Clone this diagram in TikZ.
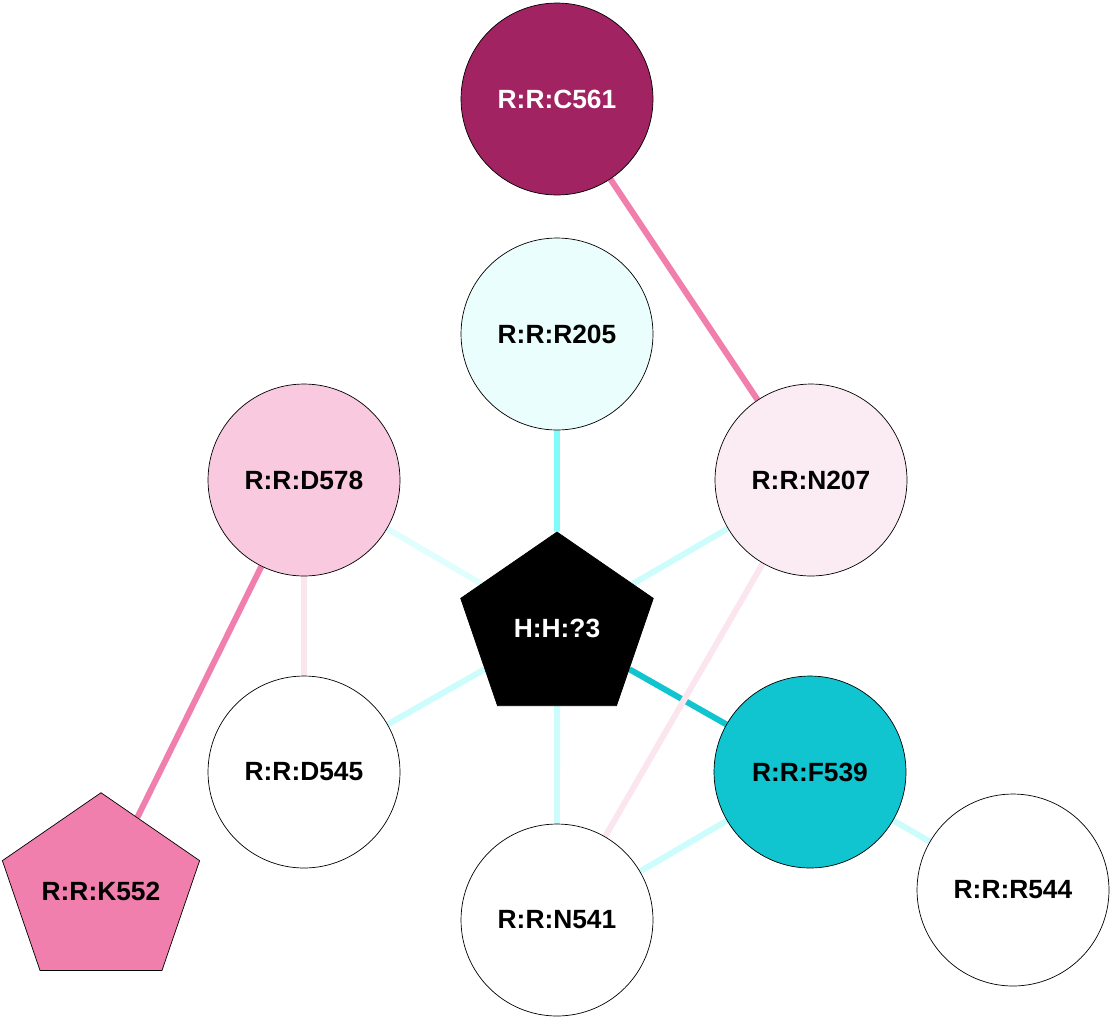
\documentclass[tikz,border=0pt]{standalone}
\usepackage{fontspec}
\setmainfont{Liberation Sans}
\usetikzlibrary{shapes.geometric,backgrounds}
\definecolor{cMag}{HTML}{A12361}
\definecolor{cPink}{HTML}{F07FAD}
\definecolor{cRose}{HTML}{F8C9DF}
\definecolor{cBlush}{HTML}{FBEBF2}
\definecolor{cIce}{HTML}{E9FEFD}
\definecolor{cTeal}{HTML}{10C5D0}
\definecolor{cAqua}{HTML}{80FBF9}
\definecolor{cFoam}{HTML}{CCFDFC}
\definecolor{cMist}{HTML}{E0FEFD}
\definecolor{cPale}{HTML}{FBE6EF}
\newcommand{\ligtxt}[1]{\scalebox{0.948}[1]{#1}}
\tikzset{
 res/.style={circle,draw=black,thin,minimum size=3.84cm,inner sep=0pt,
   font=\fontsize{15}{18}\selectfont\bfseries},
 lig/.style={regular polygon,regular polygon sides=5,draw=black,thin,
   minimum size=3.84cm,inner sep=0pt,xscale=1.055,transform shape,
   font=\fontsize{15}{18}\selectfont\bfseries},
 bond/.style={line width=3.4pt}
}

\begin{document}
\begin{tikzpicture}[x=0.02cm,y=-0.02cm]
\useasboundingbox (0,0) rectangle (1115,1022);
% residues
\node[res,fill=cMag,text=white] (c561) at (557,99) {R:R:C561};
\node[res,fill=cIce] (r205) at (557,334) {R:R:R205};
\node[res,fill=cRose] (d578) at (304,480) {R:R:D578};
\node[res,fill=cBlush] (n207) at (811,480) {R:R:N207};
\node[res,fill=white] (d545) at (304,772) {R:R:D545};
\node[res,fill=cTeal] (f539) at (810,772) {R:R:F539};
\node[res,fill=white] (n541) at (557,920) {R:R:N541};
\node[res,fill=white] (r544) at (1013,890) {R:R:R544};
% ligand and K552
\node[lig,fill=black,text=white] (h3) at (557,628) {\ligtxt{H:H:?3}};
\node[lig,fill=cPink] (k552) at (101,891) {\ligtxt{R:R:K552}};

\begin{scope}[on background layer]
\draw[bond,cPink] (c561) -- (n207);
\draw[bond,cPink] (d578) -- (k552);
\draw[bond,cAqua] (r205) -- (h3);
\draw[bond,cMist] (d578) -- (h3);
\draw[bond,cFoam] (n207) -- (h3);
\draw[bond,cFoam] (h3) -- (d545);
\draw[bond,cFoam] (h3) -- (n541);
\draw[bond,cTeal] (h3) -- (f539);
\draw[bond,cFoam] (f539) -- (n541);
\draw[bond,cFoam] (f539) -- (r544);
\draw[bond,cPale] (d578) -- (d545);
\draw[bond,cPale] (n207) -- (n541);
\end{scope}
\end{tikzpicture}
\end{document}
